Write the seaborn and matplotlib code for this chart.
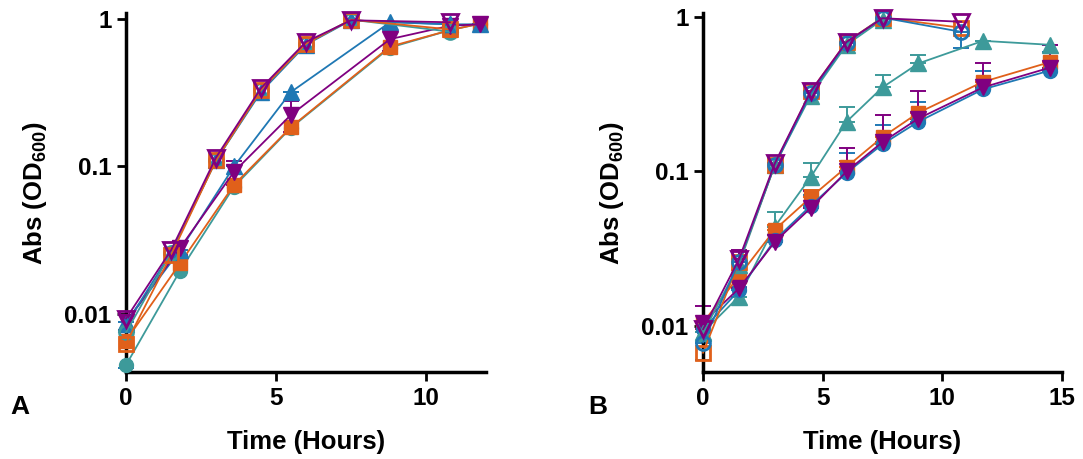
import numpy as np
import pandas as pd
import seaborn as sns
import matplotlib.pyplot as plt

# sampling times (hours)
a_fast_t = [0, 1.5, 3, 4.5, 6, 7.5, 10.8]
a_slow_t = [0, 1.8, 3.6, 5.5, 8.8, 10.8, 11.8]
b_fast_t = [0, 1.5, 3, 4.5, 6, 7.5, 10.8]
b_teal_fast_t = [0, 1.5, 3, 4.5, 6, 7.5]
b_slow_t = [0, 1.5, 3, 4.5, 6, 7.5, 9, 11.7, 14.5]

# panel A, OD600
a_teal_open = [0.0075, 0.026, 0.11, 0.33, 0.68, 0.99, 0.82]
a_orange_open = [0.0063, 0.025, 0.11, 0.33, 0.68, 0.99, 0.85]
a_blue_fast = [0.0085, 0.026, 0.11, 0.32, 0.67, 0.98, 0.92]
a_purple_open = [0.0093, 0.027, 0.115, 0.34, 0.70, 0.98, 0.95]
a_teal = [0.0045, 0.0196, 0.073, 0.183, 0.64, 0.84, 0.93]
a_orange = [0.0066, 0.022, 0.075, 0.185, 0.65, 0.84, 0.93]
a_blue = [0.0088, 0.027, 0.10, 0.32, 0.95, 0.92, 0.92]
a_purple = [0.0088, 0.028, 0.092, 0.224, 0.73, 0.90, 0.92]
a_blue_err = [0.0045, 0, 0, 0, 0, 0, 0]
a_purple_err = [0.001, 0.003, 0.017, 0.052, 0.12, 0, 0]

# panel B, OD600
b_orange_open = [0.0067, 0.026, 0.11, 0.33, 0.69, 0.99, 0.85]
b_blue_open = [0.0078, 0.026, 0.11, 0.32, 0.68, 0.99, 0.80]
b_blue_open_err = [0.0018, 0, 0, 0, 0, 0, 0.17]
b_purple_open = [0.0095, 0.027, 0.113, 0.33, 0.69, 0.98, 0.93]
b_purple_open_err = [0, 0.004, 0, 0, 0, 0, 0]
b_teal_fast = [0.009, 0.025, 0.11, 0.31, 0.66, 0.96]
b_teal = [0.0091, 0.0155, 0.044, 0.092, 0.21, 0.35, 0.50, 0.70, 0.66]
b_teal_err = [0, 0, 0.011, 0.022, 0.05, 0.07, 0.07, 0, 0]
b_orange = [0.0105, 0.021, 0.042, 0.068, 0.107, 0.167, 0.24, 0.38, 0.51]
b_orange_err = [0, 0.002, 0.003, 0.008, 0.01, 0, 0, 0, 0]
b_blue = [0.0095, 0.017, 0.036, 0.060, 0.098, 0.15, 0.21, 0.34, 0.45]
b_blue_err = [0, 0.001, 0.003, 0.01, 0.034, 0.05, 0.07, 0.11, 0.14]
b_purple = [0.0105, 0.0175, 0.035, 0.058, 0.10, 0.155, 0.22, 0.35, 0.47]
b_purple_err = [0.003, 0.002, 0.004, 0.017, 0.042, 0.077, 0.11, 0.15, 0.19]

TEAL = "#3d9a9a"
BLUE = "#1f78b4"
ORANGE = "#e0601a"
PURPLE = "#800080"

sns.set_style("ticks")
plt.rcParams["font.family"] = ["Liberation Sans", "DejaVu Sans"]
plt.rcParams["font.weight"] = "bold"
plt.rcParams["text.color"] = "black"
plt.rcParams["axes.edgecolor"] = "black"
plt.rcParams["xtick.color"] = "black"
plt.rcParams["ytick.color"] = "black"
plt.rcParams["mathtext.fontset"] = "custom"
plt.rcParams["mathtext.bf"] = "Liberation Sans:bold"
plt.rcParams["mathtext.rm"] = "Liberation Sans:bold"
plt.rcParams["mathtext.default"] = "bf"


def series(ax, t, od, color, marker, filled, ms=10, lo=None, hi=None):
    if lo is not None or hi is not None:
        zeros = [0] * len(t)
        ax.errorbar(t, od, yerr=[lo or zeros, hi or zeros], fmt="none",
                    ecolor=color, elinewidth=1.4, capsize=6, capthick=1.4,
                    zorder=2, clip_on=False)
    df = pd.DataFrame({"t": t, "od": od})
    sns.lineplot(data=df, x="t", y="od", ax=ax, color=color, lw=1.3,
                 marker=marker, markersize=ms,
                 markerfacecolor=color if filled else "none",
                 markeredgecolor=color, markeredgewidth=1.0 if filled else 2.0,
                 errorbar=None, legend=False, zorder=3, clip_on=False)


def style(ax, xmax, ylim):
    ax.set_yscale("log")
    ax.set_xlim(0, xmax)
    ax.set_ylim(*ylim)
    ax.set_yticks([0.01, 0.1, 1])
    ax.set_yticklabels(["0.01", "0.1", "1"])
    ax.set_xticks(np.arange(0, xmax + 1, 5))
    ax.minorticks_off()
    ax.set_xlabel("")
    ax.set_ylabel("")
    for s in ["top", "right"]:
        ax.spines[s].set_visible(False)
    for s in ["left", "bottom"]:
        ax.spines[s].set_linewidth(2.5)
        ax.spines[s].set_color("black")
    ax.tick_params(width=2.0, length=6.5, labelsize=17.5, pad=4, colors="black")
    for lab in ax.get_xticklabels() + ax.get_yticklabels():
        lab.set_fontweight("bold")


fig = plt.figure(figsize=(10.83, 4.59), dpi=100)
W, H = 1083, 459

axA = fig.add_axes([126 / W, 1 - 372 / H, 360 / W, 359 / H])
axB = fig.add_axes([703 / W, 1 - 372 / H, 359 / W, 359 / H])

# panel A
series(axA, a_slow_t, a_teal, TEAL, "o", True)
series(axA, a_slow_t, a_orange, ORANGE, "s", True)
series(axA, a_slow_t, a_blue, BLUE, "^", True, ms=11, lo=a_blue_err, hi=[0] * 7)
series(axA, a_slow_t, a_purple, PURPLE, "v", True, ms=11, lo=a_purple_err, hi=a_purple_err)
series(axA, a_fast_t, a_blue_fast, BLUE, "^", True, ms=11)
series(axA, a_fast_t, a_teal_open, TEAL, "o", False)
series(axA, a_fast_t, a_orange_open, ORANGE, "s", False)
series(axA, a_fast_t, a_purple_open, PURPLE, "v", False, ms=11)
style(axA, 12, (0.00404, 1.098))

# panel B
series(axB, b_slow_t, b_teal, TEAL, "^", True, ms=11, hi=b_teal_err)
series(axB, b_slow_t, b_orange, ORANGE, "s", True, hi=b_orange_err)
series(axB, b_slow_t, b_blue, BLUE, "o", True, hi=b_blue_err)
series(axB, b_slow_t, b_purple, PURPLE, "v", True, ms=11, hi=b_purple_err)
series(axB, b_teal_fast_t, b_teal_fast, TEAL, "^", True, ms=11)
series(axB, b_fast_t, b_orange_open, ORANGE, "s", False)
series(axB, b_fast_t, b_blue_open, BLUE, "o", False, lo=b_blue_open_err)
series(axB, b_fast_t, b_purple_open, PURPLE, "v", False, ms=11, hi=b_purple_open_err)
style(axB, 15, (0.00504, 1.06))

for cx, label_x in [(306, 35), (882, 612)]:
    fig.text(cx / W, 1 - 442 / H, "Time (Hours)", ha="center", va="center",
             fontsize=18.5, fontweight="bold")
    fig.text(label_x / W, 1 - 193 / H, "Abs (OD$_{600}$)", ha="center", va="center",
             rotation=90, fontsize=18.5, fontweight="bold")

fig.text(20 / W, 1 - 407 / H, "A", ha="center", va="center", fontsize=19, fontweight="bold")
fig.text(598 / W, 1 - 407 / H, "B", ha="center", va="center", fontsize=19, fontweight="bold")

fig.savefig("out.png", dpi=100)
